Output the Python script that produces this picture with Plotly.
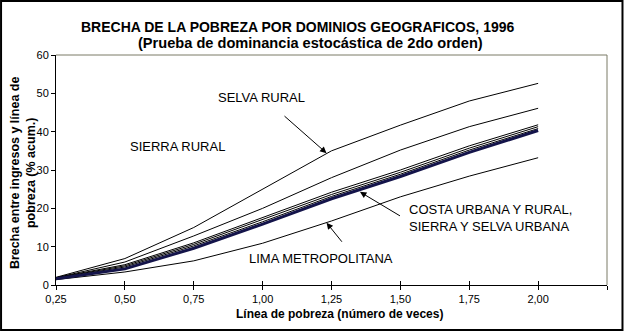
import plotly.graph_objects as go

# Data (x = línea de pobreza, número de veces)
x_vals = [0.25, 0.50, 0.75, 1.00, 1.25, 1.50, 1.75, 2.00]
selva_rural = [2.0, 6.9, 15.0, 25.0, 35.0, 41.7, 48.0, 52.6]
sierra_rural = [1.9, 6.0, 12.8, 20.0, 28.0, 35.2, 41.3, 46.1]
costa_urbana = [1.9, 5.3, 11.0, 17.5, 24.2, 30.0, 36.3, 41.8]
costa_rural = [1.8, 5.0, 10.6, 17.0, 23.6, 29.4, 35.7, 41.3]
sierra_urbana = [1.7, 4.7, 10.2, 16.5, 23.1, 28.9, 35.2, 40.8]
selva_urbana = [1.6, 4.2, 9.6, 15.9, 22.5, 28.3, 34.6, 40.3]
lima_metro = [1.4, 3.4, 6.3, 10.9, 16.7, 23.0, 28.4, 33.2]

x_tickvals = [0.25, 0.50, 0.75, 1.00, 1.25, 1.50, 1.75, 2.00, 2.25]
x_ticktext = ["0,25", "0,50", "0,75", "1,00", "1,25", "1,50", "1,75", "2,00", ""]
y_tickvals = [0, 10, 20, 30, 40, 50, 60]

FONT = "Arial, Liberation Sans, sans-serif"

fig = go.Figure()
thin = [("Selva rural", selva_rural), ("Sierra rural", sierra_rural),
        ("Costa urbana", costa_urbana), ("Costa rural", costa_rural),
        ("Sierra urbana", sierra_urbana), ("Lima metropolitana", lima_metro)]
for name, ys in thin:
    fig.add_trace(go.Scatter(x=x_vals, y=ys, mode="lines", name=name,
                             line=dict(color="black", width=1)))
fig.add_trace(go.Scatter(x=x_vals, y=selva_urbana, mode="lines", name="Selva urbana",
                         line=dict(color="#14144a", width=3)))

L, R, T, B = 56, 16.5, 55, 46
W, H = 624, 331
pw, ph = W - L - R, H - T - B

def px(xp):
    return (xp - L) / pw

def py(yp):
    return (H - B - yp) / ph

fig.update_layout(
    width=W, height=H,
    margin=dict(l=L, r=R, t=T, b=B, pad=0),
    paper_bgcolor="white", plot_bgcolor="white",
    showlegend=False,
    font=dict(family=FONT, size=11, color="black"),
    xaxis=dict(range=[0.25, 2.25], tickvals=x_tickvals, ticktext=x_ticktext,
               ticks="outside", ticklen=4, tickcolor="black", tickwidth=1,
               showline=True, linecolor="black", linewidth=1,
               showgrid=False, zeroline=False,
               tickfont=dict(family=FONT, size=11, color="black")),
    xaxis2=dict(range=[0.25, 2.25], tickvals=x_tickvals, overlaying="x", anchor="y",
                ticks="inside", ticklen=4, tickcolor="black", tickwidth=1,
                showticklabels=False, showline=False, showgrid=False, zeroline=False),
    yaxis=dict(range=[0, 60], tickvals=y_tickvals,
               ticks="outside", ticklen=4, tickcolor="black", tickwidth=1,
               showline=True, linecolor="black", linewidth=1,
               showgrid=False, zeroline=False,
               tickfont=dict(family=FONT, size=11, color="black")),
)
# dummy trace for xaxis2 visibility
fig.add_trace(go.Scatter(x=[None], y=[None], xaxis="x2", yaxis="y", showlegend=False, hoverinfo="skip"))

# plot frame top/right in gray
fig.add_shape(type="line", xref="paper", yref="paper", x0=0, x1=1, y0=1, y1=1,
              line=dict(color="#7a7a66", width=1))
fig.add_shape(type="line", xref="paper", yref="paper", x0=1, x1=1, y0=0, y1=1,
              line=dict(color="#7a7a66", width=1))
# outer frame
fig.add_shape(type="rect", xref="paper", yref="paper",
              x0=px(1), x1=px(W - 1), y0=py(H - 1), y1=py(1),
              line=dict(color="black", width=2))

ann = []
centered = dict(xref="paper", yref="paper", showarrow=False, xanchor="center", yanchor="middle")
# titles
ann.append(dict(text="<b>BRECHA DE LA POBREZA POR DOMINIOS GEOGRAFICOS, 1996</b>",
                x=px(298), y=py(27), font=dict(family=FONT, size=14), **centered))
ann.append(dict(text="<b>(Prueba de dominancia estocástica de 2do orden)</b>",
                x=px(311), y=py(43), font=dict(family=FONT, size=14.6), **centered))
ann.append(dict(text="<b>Línea de pobreza (número de veces)</b>",
                x=px(339.5), y=py(314), font=dict(family=FONT, size=12), **centered))
ann.append(dict(text="<b>Brecha entre ingresos y línea de<br>pobreza (% acum.)</b>",
                x=px(22.5), y=py(173.5), textangle=-90,
                font=dict(family=FONT, size=12.5), **centered))
# labels
lab_font = dict(family=FONT, size=13, color="black")
ann.append(dict(text="SELVA RURAL", x=0.996, y=48.8, xref="x", yref="y",
                showarrow=False, font=lab_font))
ann.append(dict(text="SIERRA RURAL", x=0.691, y=36.1, xref="x", yref="y",
                showarrow=False, font=lab_font))
ann.append(dict(text="LIMA METROPOLITANA", x=1.211, y=7.0, xref="x", yref="y",
                showarrow=False, font=lab_font))
ann.append(dict(text="COSTA URBANA Y RURAL,<br>SIERRA Y SELVA URBANA", x=1.523, y=17.5,
                xref="x", yref="y", xanchor="left", align="left",
                showarrow=False, font=lab_font))
# arrows
arrow_common = dict(text="", showarrow=True, arrowhead=2, arrowsize=1.3, arrowwidth=1,
                    arrowcolor="black", xref="x", yref="y", axref="x", ayref="y",
                    standoff=0, startstandoff=0)
ann.append(dict(x=1.232, y=34.4, ax=1.074, ay=44.4, **arrow_common))
ann.append(dict(x=1.232, y=16.25, ax=1.292, ay=10.9, **arrow_common))
ann.append(dict(x=1.353, y=24.3, ax=1.504, ay=17.8, **arrow_common))

fig.update_layout(annotations=ann)
fig.write_html("out.html")
